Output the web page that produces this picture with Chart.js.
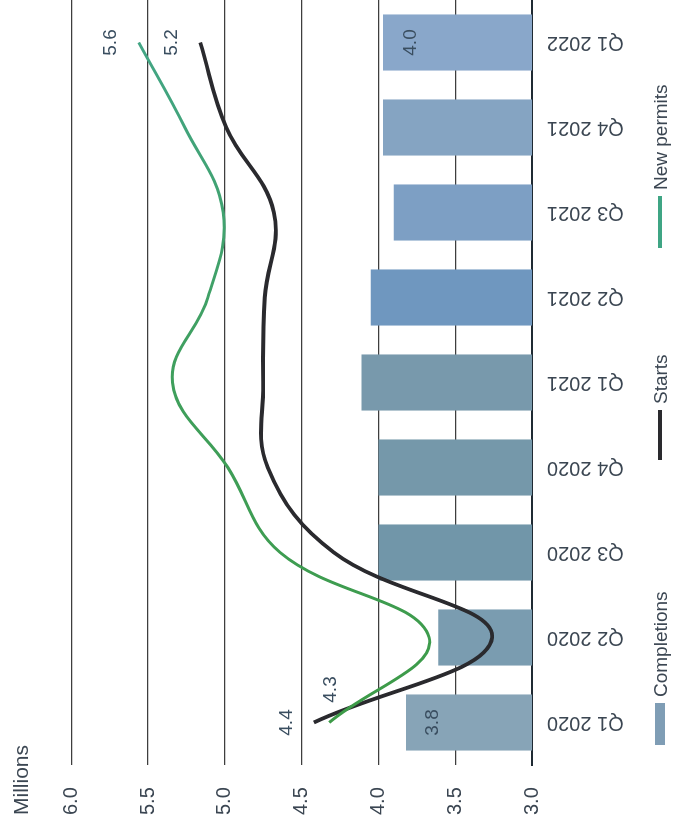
<!DOCTYPE html>
<html>
<head>
<meta charset="utf-8">
<title>Completions, starts and new permits</title>
<script src="https://cdn.jsdelivr.net/npm/chart.js@4.4.1/dist/chart.umd.min.js"></script>
<style>
  html, body { margin: 0; padding: 0; background: #fff; overflow: hidden; width: 676px; height: 829px; }
  /* the printed chart sits on its side: draw it upright, then turn the whole block */
  #wrap { position: absolute; left: 0; top: 0; width: 829px; height: 676px;
          transform-origin: 0 0; transform: translateY(829px) rotate(-90deg); }
</style>
</head>
<body>
<div id="wrap"><canvas id="housingChart" width="829" height="676"></canvas></div>
<script>
(function () {
  "use strict";

  // Data (millions)
  const quarters    = ['Q1 2020', 'Q2 2020', 'Q3 2020', 'Q4 2020', 'Q1 2021', 'Q2 2021', 'Q3 2021', 'Q4 2021', 'Q1 2022'];
  const completions = [3.82, 3.61, 4.00, 4.00, 4.11, 4.05, 3.90, 3.97, 3.97];
  const starts      = [4.42, 3.26, 4.29, 4.72, 4.75, 4.74, 4.68, 4.99, 5.16];
  const newPermits  = [4.32, 3.67, 4.64, 4.98, 5.34, 5.11, 5.01, 5.26, 5.56];
  const valueTicks  = [3.0, 3.5, 4.0, 4.5, 5.0, 5.5, 6.0];

  // Colors
  const text_dark   = '#3b4652';
  const label_dark  = '#3a4e60';
  const grid_gray   = '#3e3e3e';
  const starts_black = '#2a2a2e';
  const permits_green = '#3fa06a';
  const bar_tints = ['#87a4b7', '#7a9cb0', '#7196a9', '#7598aa', '#7899ac', '#6f97bf', '#7d9fc4', '#85a4c2', '#89a7ca'];

  const FONT = "'Liberation Sans', Arial, sans-serif";
  Chart.defaults.font.family = FONT;
  Chart.defaults.color = text_dark;

  // green line drifts from green to teal in the print
  function permitsStroke(context) {
    const area = context.chart.chartArea;
    if (!area) return permits_green;
    const g = context.chart.ctx.createLinearGradient(area.left, 0, area.right, 0);
    g.addColorStop(0, '#3d9a45');
    g.addColorStop(0.5, '#3f9f5c');
    g.addColorStop(1, '#43a68a');
    return g;
  }

  // value labels on first / last marks
  const valueLabels = {
    id: 'valueLabels',
    afterDatasetsDraw(chart, args, opts) {
      const ctx = chart.ctx;
      ctx.save();
      ctx.font = opts.font;
      ctx.fillStyle = opts.color;
      ctx.textAlign = 'center';
      ctx.textBaseline = 'middle';
      chart.data.datasets.forEach((ds, di) => {
        const meta = chart.getDatasetMeta(di);
        (opts.spots[di] || []).forEach(s => {
          const el = meta.data[s.i];
          if (!el) return;
          ctx.fillText(ds.data[s.i].toFixed(1), el.x + s.dx, el.y + s.dy);
        });
      });
      ctx.restore();
    }
  };

  // one-row legend with wide gaps, as printed
  const legendRow = {
    id: 'legendRow',
    afterDraw(chart, args, opts) {
      const ctx = chart.ctx;
      const y = chart.height - opts.bottom;
      ctx.save();
      ctx.font = opts.font;
      ctx.textBaseline = 'middle';
      ctx.textAlign = 'left';
      chart.data.datasets.forEach((ds, i) => {
        const x = opts.starts[i];
        const len = opts.swatch[i];
        if (ds.type === 'bar') {
          ctx.fillStyle = opts.colors[i];
          ctx.fillRect(x, y - 5, len, 10);
        } else {
          ctx.strokeStyle = opts.colors[i];
          ctx.lineWidth = 4;
          ctx.beginPath();
          ctx.moveTo(x, y);
          ctx.lineTo(x + len, y);
          ctx.stroke();
        }
        ctx.fillStyle = opts.color;
        ctx.fillText(ds.label, x + len + 6, y + 2);
      });
      ctx.restore();
    }
  };

  const housing = document.getElementById('housingChart');
  if (housing != null) {
    const ctx = housing.getContext('2d');
    new Chart(ctx, {
      data: {
        labels: quarters,
        datasets: [
          {
            type: 'bar',
            label: 'Completions',
            data: completions,
            backgroundColor: bar_tints,
            borderWidth: 0,
            categoryPercentage: 1,
            barPercentage: 0.66,
            order: 3
          },
          {
            type: 'line',
            label: 'Starts',
            data: starts,
            borderColor: starts_black,
            borderWidth: 3.8,
            tension: 0.4,
            pointRadius: 0,
            fill: false,
            order: 2
          },
          {
            type: 'line',
            label: 'New permits',
            data: newPermits,
            borderColor: permitsStroke,
            borderWidth: 3,
            tension: 0.4,
            pointRadius: 0,
            fill: false,
            order: 1
          }
        ]
      },
      options: {
        responsive: false,
        animation: false,
        devicePixelRatio: 1,
        layout: {
          padding: { top: 0, left: 14, right: 0, bottom: 48 }
        },
        scales: {
          x: {
            type: 'category',
            grid: { display: false, drawTicks: false },
            border: { display: true, color: '#1f2a33', width: 2 },
            ticks: {
              autoSkip: false,
              minRotation: 90,
              maxRotation: 90,
              padding: 15,
              color: text_dark,
              font: { size: 20 }
            },
            afterFit(scale) { scale.height = 96; }
          },
          y: {
            min: valueTicks[0],
            max: valueTicks[valueTicks.length - 1],
            afterBuildTicks(scale) {
              scale.ticks = valueTicks.map(v => ({ value: v }));
            },
            grid: { color: grid_gray, lineWidth: 1.2, drawTicks: false },
            border: { display: false },
            ticks: {
              crossAlign: 'far',
              padding: 0,
              color: text_dark,
              font: { size: 20 },
              callback: v => Number(v).toFixed(1)
            },
            afterFit(scale) { scale.width = 50; }
          }
        },
        plugins: {
          legend: { display: false },
          tooltip: { enabled: false },
          title: {
            display: true,
            text: 'Millions',
            align: 'start',
            color: text_dark,
            font: { size: 21, weight: 'normal' },
            padding: { top: 10, bottom: 36 }
          },
          valueLabels: {
            font: '19px ' + FONT,
            color: label_dark,
            spots: [
              [{ i: 0, dx: 0, dy: 27 }, { i: 8, dx: 0, dy: 28 }],
              [{ i: 0, dx: 0, dy: -27 }, { i: 8, dx: 0, dy: -28 }],
              [{ i: 0, dx: 33, dy: 2 }, { i: 8, dx: 0, dy: -28 }]
            ]
          },
          legendRow: {
            font: '19px ' + FONT,
            color: text_dark,
            bottom: 16,
            starts: [84, 369, 581],
            swatch: [42, 50, 52],
            colors: ['#7f9db5', starts_black, '#3fa584']
          }
        }
      },
      plugins: [valueLabels, legendRow]
    });
  }
})();
</script>
</body>
</html>
